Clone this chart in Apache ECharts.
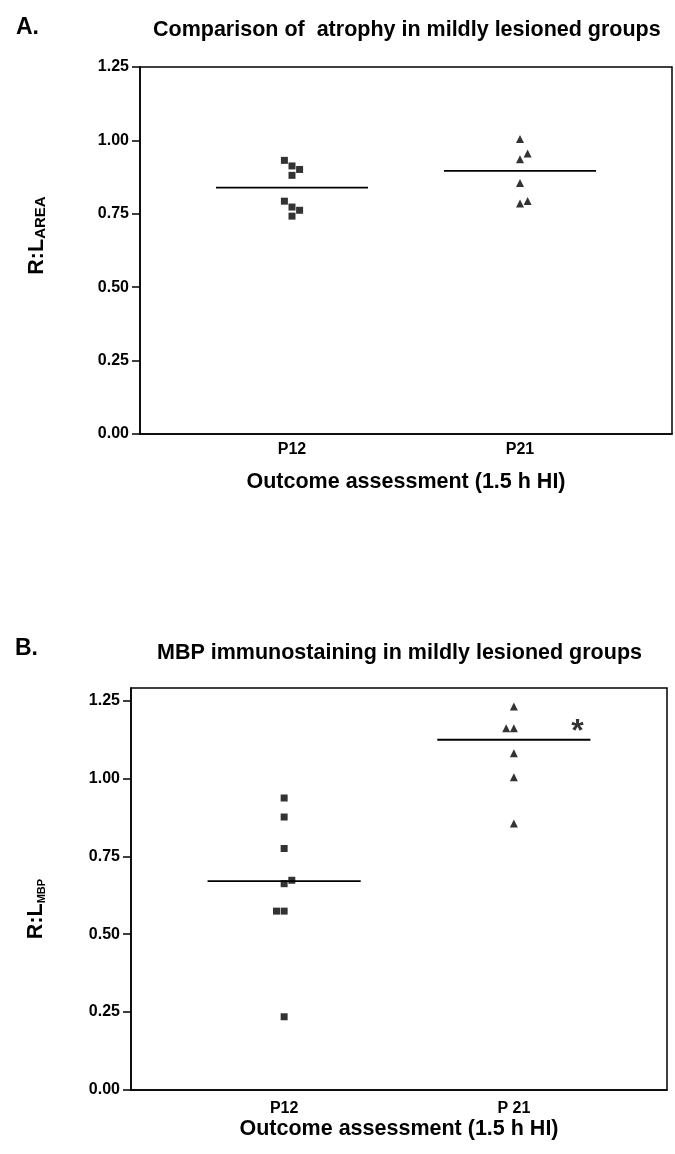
<!DOCTYPE html>
<html>
<head>
<meta charset="utf-8">
<script src="https://cdn.jsdelivr.net/npm/echarts@6/dist/echarts.min.js"></script>
<style>
  html, body { margin: 0; padding: 0; background: #fff; }
  #chart { width: 675px; height: 1154px; }
</style>
</head>
<body>
<div id="chart"></div>
<script>
// ---- data ----
const categoriesA = ['P12', 'P21'];
const categoriesB = ['P12', 'P 21'];
const categoryPos = [2, 5];
const yTicks = [0, 0.25, 0.5, 0.75, 1.0, 1.25];

// Panel A: atrophy (R:L area)
const p12AreaX = [1.9, 2.0, 2.1, 2.0, 1.9, 2.0, 2.1, 2.0];
const p12AreaY = [0.932, 0.913, 0.901, 0.881, 0.793, 0.773, 0.762, 0.742];
const p21AreaX = [5.0, 5.1, 5.0, 5.0, 5.1, 5.0];
const p21AreaY = [1.005, 0.955, 0.936, 0.855, 0.794, 0.785];
const meanArea = [0.839, 0.896];

// Panel B: MBP immunostaining (R:L MBP)
const p12MbpX = [2.0, 2.0, 2.0, 2.1, 2.0, 1.9, 2.0, 2.0];
const p12MbpY = [0.937, 0.876, 0.775, 0.673, 0.662, 0.574, 0.574, 0.235];
const p21MbpX = [5.0, 4.9, 5.0, 5.0, 5.0, 5.0];
const p21MbpY = [1.231, 1.161, 1.161, 1.081, 1.004, 0.855];
const meanMbp = [0.670, 1.124];
const sigMarkB = [5.83, 1.16];

// ---- helpers ----
const FONT = '"Liberation Sans", Arial, Helvetica, sans-serif';
const INK = '#000';
const zip = (xs, ys) => xs.map((x, i) => [x, ys[i]]);
const meanSeg = (pos, m) => [[pos - 1, m], [pos + 1, m]];

function xAxisFor(gridIndex, cats, labelMargin, nameGap) {
  return {
    gridIndex, type: 'value', min: 0, max: 7,
    axisLine: { show: true, lineStyle: { color: INK, width: 1.5 } },
    axisTick: { show: false },
    splitLine: { show: false },
    axisLabel: {
      customValues: categoryPos,
      margin: labelMargin,
      color: INK, fontFamily: FONT, fontWeight: 'bold', fontSize: 16,
      formatter: v => { const i = categoryPos.indexOf(v); return i >= 0 ? cats[i] : ''; }
    },
    name: 'Outcome assessment (1.5 h HI)',
    nameLocation: 'middle', nameGap,
    nameTextStyle: { color: INK, fontFamily: FONT, fontWeight: 'bold', fontSize: 21.5 }
  };
}

function yAxisFor(gridIndex, max, name, subSize, nameGap, pad) {
  return {
    gridIndex, type: 'value', min: 0, max,
    axisLine: { show: true, lineStyle: { color: INK, width: 1.5 } },
    axisTick: { show: true, length: 8, customValues: yTicks, lineStyle: { color: INK, width: 1.5 } },
    splitLine: { show: false },
    axisLabel: {
      customValues: yTicks, margin: 11,
      color: INK, fontFamily: FONT, fontWeight: 'bold', fontSize: 16,
      formatter: v => v.toFixed(2)
    },
    name, nameLocation: 'middle', nameGap, nameRotate: 90,
    nameTextStyle: {
      color: INK, fontFamily: FONT, fontWeight: 'bold', fontSize: 21.5, padding: pad,
      rich: { s: { fontFamily: FONT, fontWeight: 'bold', fontSize: subSize, color: INK, verticalAlign: 'bottom' } }
    }
  };
}

const squareStyle = { type: 'scatter', symbol: 'rect', symbolSize: 7, itemStyle: { color: INK }, silent: true };
const triStyle = { type: 'scatter', symbol: 'triangle', symbolSize: 8, itemStyle: { color: INK }, silent: true };
const lineStyle = { type: 'line', symbol: 'none', lineStyle: { color: INK, width: 1.8 }, silent: true };

const option = {
  backgroundColor: '#fff',
  animation: false,
  title: [
    { text: 'A.', left: 11, top: 11, textStyle: { fontFamily: FONT, fontWeight: 'bold', fontSize: 23, color: INK } },
    { text: 'Comparison of  atrophy in mildly lesioned groups', left: 148, top: 14,
      textStyle: { fontFamily: FONT, fontWeight: 'bold', fontSize: 21.5, color: INK } },
    { text: 'B.', left: 10, top: 632, textStyle: { fontFamily: FONT, fontWeight: 'bold', fontSize: 23, color: INK } },
    { text: 'MBP immunostaining in mildly lesioned groups', left: 152, top: 637,
      textStyle: { fontFamily: FONT, fontWeight: 'bold', fontSize: 21.5, color: INK } }
  ],
  grid: [
    { left: 140, right: 3, top: 67, height: 367, show: true, borderColor: INK, borderWidth: 1.5, backgroundColor: 'transparent' },
    { left: 131, right: 8, top: 688, height: 402, show: true, borderColor: INK, borderWidth: 1.5, backgroundColor: 'transparent' }
  ],
  xAxis: [
    xAxisFor(0, categoriesA, 8, 37),
    xAxisFor(1, categoriesB, 11, 27)
  ],
  yAxis: [
    yAxisFor(0, 1.25, 'R:L{s|AREA}', 15, 92, [0, 0, 0, 30]),
    yAxisFor(1, 1.29, 'R:L{s|MBP}', 11, 84, [0, 40, 0, 0])
  ],
  series: [
    Object.assign({ name: 'P12 area', xAxisIndex: 0, yAxisIndex: 0, data: zip(p12AreaX, p12AreaY) }, squareStyle),
    Object.assign({ name: 'P21 area', xAxisIndex: 0, yAxisIndex: 0, data: zip(p21AreaX, p21AreaY) }, triStyle),
    Object.assign({ name: 'P12 area mean', xAxisIndex: 0, yAxisIndex: 0, data: meanSeg(categoryPos[0], meanArea[0]) }, lineStyle),
    Object.assign({ name: 'P21 area mean', xAxisIndex: 0, yAxisIndex: 0, data: meanSeg(categoryPos[1], meanArea[1]) }, lineStyle),
    Object.assign({ name: 'P12 MBP', xAxisIndex: 1, yAxisIndex: 1, data: zip(p12MbpX, p12MbpY) }, squareStyle),
    Object.assign({ name: 'P21 MBP', xAxisIndex: 1, yAxisIndex: 1, data: zip(p21MbpX, p21MbpY) }, triStyle),
    Object.assign({ name: 'P12 MBP mean', xAxisIndex: 1, yAxisIndex: 1, data: meanSeg(categoryPos[0], meanMbp[0]) }, lineStyle),
    Object.assign({ name: 'P21 MBP mean', xAxisIndex: 1, yAxisIndex: 1, data: meanSeg(categoryPos[1], meanMbp[1]) }, lineStyle),
    {
      name: 'significance', type: 'scatter', xAxisIndex: 1, yAxisIndex: 1, symbolSize: 1,
      itemStyle: { color: 'rgba(0,0,0,0)' }, silent: true,
      data: [sigMarkB],
      label: { show: true, position: 'inside', formatter: '*', offset: [0, 4],
               fontFamily: FONT, fontWeight: 'bold', fontSize: 32, color: INK }
    }
  ]
};

const chart = echarts.init(document.getElementById('chart'), null, { renderer: 'canvas' });
chart.setOption(option);
</script>
</body>
</html>
